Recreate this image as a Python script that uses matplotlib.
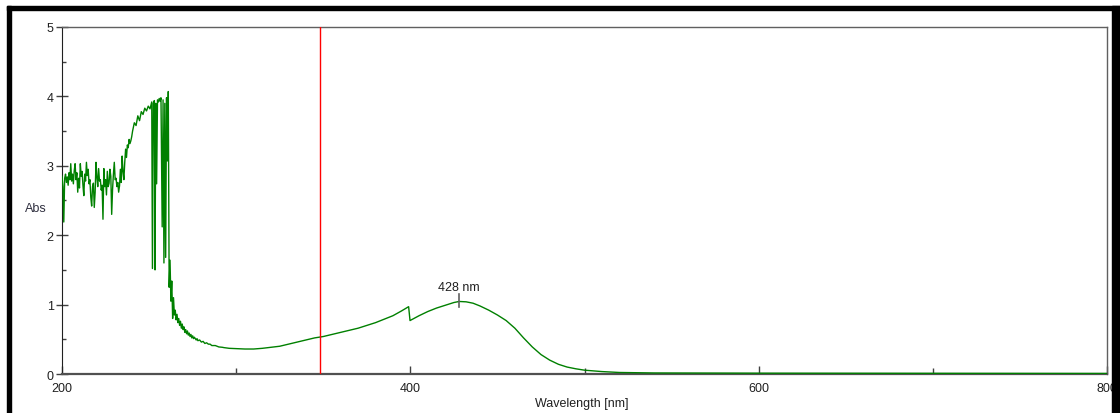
import matplotlib.pyplot as plt
from matplotlib.patches import Rectangle
from matplotlib.ticker import MultipleLocator

plt.rcParams['font.family'] = ['Liberation Sans', 'DejaVu Sans']

# spectrum (nm, Abs)
wl = [200.0, 200.5, 201.0, 201.5, 202.0, 202.5, 203.0, 203.5, 204.0, 204.5, 205.0, 205.5,
      206.0, 206.5, 207.0, 207.5, 208.0, 208.5, 209.0, 209.5, 210.0, 210.5, 211.0, 211.5,
      212.0, 212.5, 213.0, 213.5, 214.0, 214.5, 215.0, 215.5, 216.0, 216.5, 217.0, 217.5,
      218.0, 218.5, 219.0, 219.5, 220.0, 220.5, 221.0, 221.5, 222.0, 222.5, 223.0, 223.5,
      224.0, 224.5, 225.0, 225.5, 226.0, 226.5, 227.0, 227.5, 228.0, 228.5, 229.0, 229.5,
      230.0, 230.5, 231.0, 231.5, 232.0, 232.5, 233.0, 233.5, 234.0, 234.5, 235.0, 235.5,
      236.0, 236.5, 237.0, 237.5, 238.0, 238.5, 239.0, 239.5, 240.0,
      240.5, 241.5, 242.5, 243.5, 244.5, 245.5, 246.5, 247.5, 248.5, 249.5, 250.5, 251.5,
      251.9, 252.4, 253.0, 253.4, 253.8, 254.3, 254.8, 255.3, 255.8, 256.3, 256.8, 257.5,
      258.0, 258.5, 259.0, 259.5, 260.0, 260.5, 261.0, 261.5, 262.0, 262.5, 263.0,
      263.5, 264.0, 264.5, 265.0, 265.5, 266.0, 266.5, 267.0, 267.5, 268.0, 268.5, 269.0,
      269.5, 270.0, 270.5, 271.0, 271.5, 272.0, 272.5, 273.0, 273.5, 274.0, 274.5, 275.0,
      275.5, 276.0, 277.0, 277.5, 278.0, 279.0, 280.0, 281.0, 282.0, 283.0, 284.0, 285.0,
      286.0, 288.0, 290.0, 292.0, 293.0, 296.0, 300.0, 305, 310, 315,
      320, 325, 330, 335, 340, 345, 350, 355, 360, 365, 370, 375, 380, 385, 390,
      395, 399.0, 399.8, 405, 410, 415, 420, 425, 428, 432, 436, 440, 445, 450,
      455, 460, 465, 470, 475, 480, 485, 490, 495, 500, 505, 510, 520, 540, 600,
      700, 800]
absorb = [2.85, 2.70, 2.19, 2.82, 2.88, 2.76, 2.84, 2.72, 2.90, 2.80, 3.03, 2.78,
          2.88, 2.74, 2.93, 3.03, 2.80, 2.90, 2.62, 2.82, 2.68, 3.03, 2.85, 2.92,
          2.72, 2.57, 2.88, 2.78, 3.05, 2.86, 2.95, 2.74, 2.80, 2.55, 2.42, 2.70,
          2.75, 2.40, 2.62, 3.05, 2.84, 2.70, 2.96, 2.78, 2.80, 2.65, 2.72, 2.23,
          2.96, 2.70, 2.80, 2.58, 2.92, 2.70, 2.75, 2.95, 2.85, 2.30, 2.66, 2.88,
          3.05, 2.80, 2.82, 2.70, 2.76, 2.62, 2.71, 2.95, 2.76, 3.14, 2.92, 2.80,
          3.05, 3.24, 3.12, 3.30, 3.26, 3.38, 3.32, 3.36, 3.42,
          3.50, 3.62, 3.58, 3.72, 3.65, 3.78, 3.74, 3.83, 3.79, 3.86, 3.82, 3.92,
          1.52, 3.90, 3.94, 1.50, 3.90, 2.74, 3.95, 3.92, 3.97, 3.93, 3.98, 2.12,
          3.95, 1.60, 3.90, 1.68, 3.98, 3.07, 4.07, 1.25, 1.64, 1.05, 1.34,
          0.80, 1.10, 0.85, 0.92, 0.78, 0.86, 0.74, 0.80, 0.70, 0.76, 0.66, 0.72,
          0.64, 0.68, 0.60, 0.64, 0.58, 0.62, 0.56, 0.59, 0.54, 0.57, 0.52, 0.55,
          0.51, 0.53, 0.49, 0.51, 0.48, 0.49, 0.46, 0.47, 0.44, 0.45, 0.43, 0.43,
          0.41, 0.41, 0.39, 0.385, 0.38, 0.37, 0.365, 0.36, 0.36, 0.37,
          0.385, 0.40, 0.43, 0.46, 0.49, 0.52, 0.54, 0.57, 0.60, 0.63, 0.66, 0.70, 0.74, 0.79, 0.84,
          0.91, 0.97, 0.77, 0.84, 0.90, 0.95, 0.99, 1.03, 1.045, 1.04, 1.02, 0.98, 0.92, 0.85,
          0.77, 0.66, 0.52, 0.39, 0.28, 0.20, 0.14, 0.10, 0.075, 0.055, 0.045, 0.035, 0.022, 0.015, 0.012,
          0.01, 0.008]

peak_wl = 428
cursor_wl = 348

fig = plt.figure(figsize=(11.2, 4.14), dpi=100)
ax = fig.add_axes([0.0554, 0.0942, 0.9330, 0.8382])

ax.plot(wl, absorb, color='#008000', lw=1.0, zorder=3)
ax.axvline(cursor_wl, color='#ff0000', lw=1.0, zorder=4)

# peak marker
ax.plot([peak_wl, peak_wl], [0.97, 1.15], color='#606060', lw=1.2, zorder=5)
ax.text(peak_wl, 1.17, '%d nm' % peak_wl, ha='center', va='bottom', fontsize=9, color='#202020')

ax.set_xlim(200, 800)
ax.set_ylim(0, 5)
ax.xaxis.set_major_locator(MultipleLocator(200))
ax.xaxis.set_minor_locator(MultipleLocator(100))
ax.yaxis.set_major_locator(MultipleLocator(1))
ax.yaxis.set_minor_locator(MultipleLocator(0.5))

ax.tick_params(axis='x', which='major', direction='in', length=6, width=1, color='#404040',
               labelsize=9, pad=6, labelcolor='#202020')
ax.tick_params(axis='x', which='minor', direction='in', length=4, width=1, color='#404040')
ax.tick_params(axis='y', which='major', direction='inout', length=8, width=1, color='#404040',
               labelsize=9, pad=2, labelcolor='#202020')
ax.tick_params(axis='y', which='minor', direction='in', length=3, width=1, color='#404040')

for s in ['top', 'right']:
    ax.spines[s].set_color('#606060')
    ax.spines[s].set_linewidth(1.0)
ax.spines['left'].set_color('#202020')
ax.spines['bottom'].set_color('#505050')
ax.spines['bottom'].set_linewidth(1.6)

ax.set_ylabel('Abs', rotation=0, fontsize=9, color='#303040', ha='center', va='center')
ax.yaxis.set_label_coords(-0.025, 0.478)
ax.set_xlabel('Wavelength [nm]', fontsize=9, color='#202020', va='center')
ax.xaxis.set_label_coords(0.497, -0.084)

# black window frame
frame = dict(color='black', transform=fig.transFigure, zorder=20)
fig.add_artist(Rectangle((7 / 1120, 0), 4 / 1120, 407 / 414, **frame))
fig.add_artist(Rectangle((7 / 1120, 403 / 414), 1113 / 1120, 4 / 414, **frame))
fig.add_artist(Rectangle((1112 / 1120, 0), 8 / 1120, 407 / 414, **frame))

fig.savefig('out.png', dpi=100, facecolor='white')
